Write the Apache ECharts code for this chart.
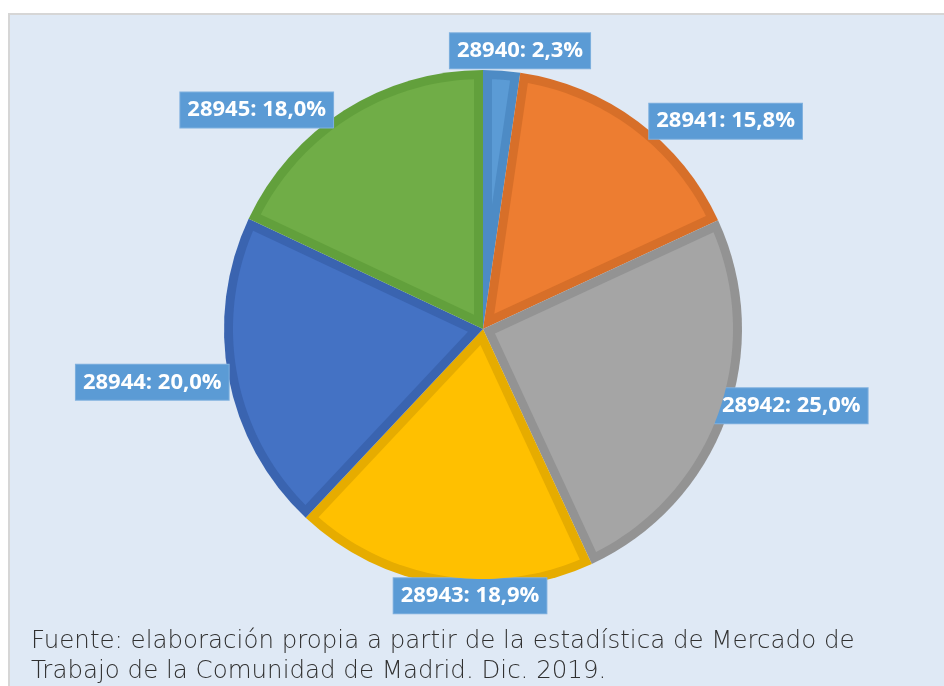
<!DOCTYPE html>
<html>
<head>
<meta charset="utf-8">
<script src="https://cdn.jsdelivr.net/npm/echarts@6/dist/echarts.min.js"></script>
<style>
html, body { margin: 0; padding: 0; background: #fff; }
#chart { width: 944px; height: 686px; }
</style>
</head>
<body>
<div id="chart"></div>
<script>
// datos del gráfico
var codigos = ['28940', '28941', '28942', '28943', '28944', '28945'];
var porcentajes = [2.3, 15.8, 25.0, 18.9, 20.0, 18.0];
var coloresClaros = ['#5b9bd5', '#ed7d31', '#a5a5a5', '#ffc000', '#4472c4', '#70ad47'];
var coloresOscuros = ['#4d8bc5', '#d76f29', '#939393', '#e6ac00', '#3a64b0', '#62a03c'];
var fuente = 'Fuente: elaboración propia a partir de la estadística de Mercado de\nTrabajo de la Comunidad de Madrid. Dic. 2019.';

var centro = [483, 329];
var radio = 259;
var borde = 9; // ancho del borde oscuro de cada porción

var myChart = echarts.init(document.getElementById('chart'));

var datosOscuros = codigos.map(function (c, i) {
    return { name: c, value: porcentajes[i], itemStyle: { color: coloresOscuros[i] } };
});

// ajustes a mano de las etiquetas
var ajustes = {
    0: { align: 'center', dx: 9, dy: -16 },
    1: { dy: 3 },
    2: { dx: -24, dy: -14 },
    3: { align: 'center', dx: 38, dy: 7 },
    4: { dx: 13, dy: 4 },
    5: { dx: 0, dy: 3 }
};

// relleno claro de cada porción, metido "borde" px hacia dentro
function rellenoClaro(params, api) {
    var i = params.dataIndex;
    var total = porcentajes.reduce(function (a, b) { return a + b; }, 0);
    var acum = 0;
    for (var k = 0; k < i; k++) acum += porcentajes[k];
    var a0 = -Math.PI / 2 + acum / total * Math.PI * 2;
    var a1 = -Math.PI / 2 + (acum + porcentajes[i]) / total * Math.PI * 2;
    var rho = radio - borde;
    var mitad = (a1 - a0) / 2;
    var dVertice = borde / Math.sin(mitad);
    var pts = [[centro[0] + dVertice * Math.cos(a0 + mitad), centro[1] + dVertice * Math.sin(a0 + mitad)]];
    var d = Math.asin(borde / rho);
    var f0 = a0 + d, f1 = a1 - d;
    var n = 48;
    for (var j = 0; j <= n; j++) {
        var a = f0 + (f1 - f0) * j / n;
        pts.push([centro[0] + rho * Math.cos(a), centro[1] + rho * Math.sin(a)]);
    }
    return {
        type: 'polygon',
        shape: { points: pts },
        style: { fill: coloresClaros[i] }
    };
}

var option = {
    backgroundColor: '#ffffff',
    animation: false,
    graphic: [
        {
            type: 'rect',
            z: -10,
            shape: { x: 9, y: 14, width: 940, height: 680 },
            style: { fill: '#dfe9f5', stroke: '#d6d6d6', lineWidth: 2 }
        },
        {
            type: 'text',
            left: 31,
            top: 627,
            style: {
                text: fuente,
                font: '200 24.5px "DejaVu Sans", sans-serif',
                fill: '#303030',
                lineHeight: 30
            }
        }
    ],
    series: [
        {
            type: 'pie',
            center: centro,
            radius: radio,
            startAngle: 90,
            clockwise: true,
            avoidLabelOverlap: false,
            data: datosOscuros,
            z: 1,
            label: {
                show: true,
                position: 'outside',
                formatter: function (p) {
                    return p.name + ': ' + p.value.toFixed(1).replace('.', ',') + '%';
                },
                color: '#ffffff',
                fontFamily: 'Open Sans',
                fontWeight: 'bold',
                fontSize: 22,
                backgroundColor: '#5b9bd5',
                borderColor: '#7fb0de',
                borderWidth: 1,
                padding: [7, 7, 6, 7]
            },
            labelLine: { show: false, length: 4, length2: 4 },
            labelLayout: function (p) {
                return ajustes[p.dataIndex];
            },
            emphasis: { disabled: true }
        },
        {
            type: 'custom',
            coordinateSystem: 'none',
            silent: true,
            z: 2,
            data: porcentajes,
            renderItem: rellenoClaro
        }
    ]
};

myChart.setOption(option);

window.addEventListener('resize', function () {
    myChart.resize();
});
</script>
</body>
</html>
